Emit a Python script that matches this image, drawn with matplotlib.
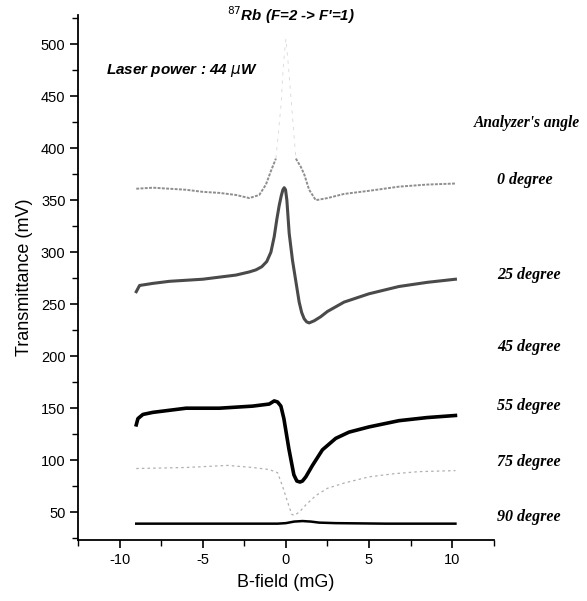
import matplotlib.pyplot as plt
from matplotlib.ticker import MultipleLocator

plt.rcParams["axes.unicode_minus"] = False

# B-field (mG) and transmittance (mV), one pair per analyzer angle
b_0 = [-9.0, -8.0, -7.0, -6.0, -5.0, -4.0, -3.0, -2.2, -1.6, -1.2, -0.9, -0.6, -0.3,
       -0.15, 0.0, 0.15, 0.3, 0.6, 0.9, 1.1, 1.4, 1.8, 2.5, 3.5, 5.0, 6.8, 8.5, 10.2]
t_0 = [361, 362, 361, 360, 358, 357, 355, 352, 355, 365, 378, 390, 440,
       480, 505, 480, 450, 390, 382, 375, 360, 350, 352, 356, 359, 363, 365, 366]

b_25 = [-9.0, -8.8, -8.0, -7.0, -6.0, -5.0, -4.0, -3.0, -2.2, -1.8, -1.45, -1.15,
        -0.9, -0.7, -0.54, -0.4, -0.28, -0.18, -0.1, -0.02, 0.06, 0.2, 0.4, 0.6,
        0.8, 0.95, 1.1, 1.25, 1.4, 1.7, 2.1, 2.5, 3.5, 5.0, 6.8, 8.5, 10.2]
t_25 = [262, 268, 270, 272, 273, 274, 276, 278, 281, 283, 286, 291,
        300, 315, 332, 345, 354, 360, 362, 360, 350, 318, 292, 272,
        252, 242, 236, 233, 232, 234, 238, 243, 252, 260, 267, 271, 274]

b_55 = [-9.0, -8.9, -8.6, -8.0, -7.0, -6.0, -5.0, -4.0, -3.0, -2.0, -1.0, -0.7,
        -0.5, -0.3, -0.12, 0.18, 0.48, 0.66, 0.85, 1.0, 1.2, 1.6, 2.2, 3.0, 3.8,
        5.0, 6.8, 8.5, 10.2]
t_55 = [134, 140, 144, 146, 148, 150, 150, 150, 151, 152, 154, 157,
        156, 152, 140, 111, 86, 80, 79, 80, 84, 95, 110, 121, 127,
        132, 138, 141, 143]

b_75 = [-9.0, -6.0, -3.5, -2.0, -1.0, -0.5, -0.2, 0.1, 0.35, 0.5, 0.8, 1.2, 1.8,
        2.5, 3.5, 5.0, 6.5, 8.0, 10.2]
t_75 = [92, 93, 95, 93, 91, 88, 75, 60, 48, 47, 50, 57, 66,
        73, 78, 84, 87, 89, 90]

b_90 = [-9.0, -5.0, -2.0, -0.5, 0.0, 0.5, 1.0, 1.5, 2.0, 3.0, 6.0, 10.2]
t_90 = [39, 39, 39, 39, 39.5, 41, 41.5, 41, 40, 39.5, 39, 39]

angle_labels = ["0 degree", "25 degree", "45 degree", "55 degree", "75 degree", "90 degree"]

fig = plt.figure(figsize=(5.87, 6.01), dpi=100)
ax = fig.add_axes([0.133, 0.101, 0.708, 0.874])

# 0 degree trace: the fast sweep through the peak barely shows on the scope
ax.plot(b_0[:12], t_0[:12], color="#8e8e8e", lw=1.4, ls=(0, (1.5, 0.7)))
ax.plot(b_0[11:18], t_0[11:18], color="#d8d8d8", lw=0.6, ls=(0, (4, 6)))
ax.plot(b_0[17:], t_0[17:], color="#8e8e8e", lw=1.4, ls=(0, (1.5, 0.7)))
ax.plot(b_25, t_25, color="#4a4a4a", lw=2.2)
ax.plot(b_55, t_55, color="black", lw=2.6)
ax.plot(b_75, t_75, color="#b0b0b0", lw=0.9, ls=(0, (2, 2.5)))
ax.plot(b_90, t_90, color="black", lw=1.8)

ax.set_xlim(-12.5, 12.5)
ax.set_ylim(23, 528)
ax.xaxis.set_major_locator(MultipleLocator(5))
ax.xaxis.set_minor_locator(MultipleLocator(2.5))
ax.yaxis.set_major_locator(MultipleLocator(50))
ax.yaxis.set_minor_locator(MultipleLocator(25))
ax.spines["top"].set_visible(False)
ax.spines["right"].set_visible(False)
ax.spines["left"].set_linewidth(1.3)
ax.spines["bottom"].set_linewidth(1.3)
ax.tick_params(which="major", direction="out", length=6, width=1.2, pad=3,
               labelsize=10.5, labelfontfamily="Liberation Sans")
ax.tick_params(which="minor", direction="out", length=4, width=1.0)

ax.set_xlabel("B-field (mG)", fontsize=13, family="Liberation Sans", labelpad=5)
ax.set_ylabel("Transmittance (mV)", fontsize=13, family="Liberation Sans", labelpad=6)

ax.text(-10.8, 475, r"Laser power : 44 $\mu$W", fontsize=11, va="center",
        family="Liberation Sans", weight="bold", style="italic")
fig.text(0.387, 1 - 15 / 601, r"$^{87}$Rb (F=2 -> F'=1)", fontsize=10.8,
         family="Liberation Sans", weight="bold", style="italic", va="center")

fig.text(474 / 587, 1 - 123 / 601, "Analyzer's angle", fontsize=11.2,
         family="Liberation Serif", weight="bold", style="italic", va="center")
label_y = [180, 275, 347, 406, 462, 517]
for lab, py in zip(angle_labels, label_y):
    fig.text(497 / 587, 1 - py / 601, lab, fontsize=11.5,
             family="Liberation Serif", weight="bold", style="italic", va="center")

fig.savefig("out.png", dpi=100)
